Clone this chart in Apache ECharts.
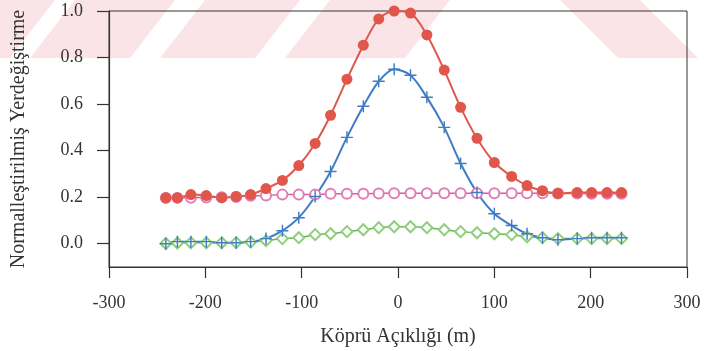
<!DOCTYPE html>
<html>
<head>
<meta charset="utf-8">
<script src="https://cdn.jsdelivr.net/npm/echarts@6/dist/echarts.min.js"></script>
<style>
  html, body { margin: 0; padding: 0; background: #fff; }
  #chart { width: 706px; height: 351px; }
</style>
</head>
<body>
<div id="chart"></div>
<script>
// span positions (m) shared by all four curves
const spanX = [-241, -229, -215, -199, -183, -168, -153, -137, -120, -103,
  -86, -70, -53, -36, -20, -4, 13, 30, 48, 65,
  82, 100, 118, 134, 150, 166, 186, 201, 217, 232];

const redVals = [0.198, 0.198, 0.211, 0.207, 0.198, 0.203, 0.211, 0.237, 0.272, 0.336,
  0.431, 0.552, 0.707, 0.853, 0.966, 1.0, 0.991, 0.897, 0.746, 0.586,
  0.453, 0.349, 0.289, 0.25, 0.228, 0.216, 0.22, 0.22, 0.22, 0.22];

const pinkVals = [0.196, 0.197, 0.198, 0.199, 0.2, 0.201, 0.206, 0.207, 0.211, 0.211,
  0.211, 0.215, 0.215, 0.215, 0.216, 0.217, 0.217, 0.217, 0.217, 0.217,
  0.217, 0.217, 0.217, 0.217, 0.217, 0.216, 0.216, 0.215, 0.215, 0.215];

const blueVals = [0.0, 0.009, 0.009, 0.009, 0.004, 0.004, 0.009, 0.022, 0.056, 0.112,
  0.203, 0.31, 0.457, 0.591, 0.698, 0.75, 0.724, 0.629, 0.5, 0.345,
  0.22, 0.129, 0.078, 0.043, 0.026, 0.017, 0.022, 0.026, 0.026, 0.026];

const greenVals = [0.001, 0.003, 0.004, 0.004, 0.004, 0.005, 0.007, 0.013, 0.022, 0.026,
  0.039, 0.043, 0.052, 0.06, 0.069, 0.073, 0.073, 0.069, 0.06, 0.052,
  0.047, 0.043, 0.039, 0.03, 0.026, 0.022, 0.022, 0.022, 0.022, 0.022];

const yTicks = [0, 0.2, 0.4, 0.6, 0.8, 1.0];
const xTicks = [-300, -200, -100, 0, 100, 200, 300];

const FONT = "'Liberation Serif', 'DejaVu Serif', serif";
const INK = "#333";

const pairs = (vals) => spanX.map((x, i) => [x, vals[i]]);
const plus = "path://M4.4,0h1.2v4.4h4.4v1.2h-4.4v4.4h-1.2v-4.4h-4.4v-1.2h4.4z";

// faint pink scan watermark across the top
const band = 58, slant = 45;
const stripe = (a, b) => ({
  type: "polygon", z: -10, silent: true,
  shape: { points: [[a, 0], [b, 0], [b - slant, band], [a - slant, band]] },
  style: { fill: "#fff" },
});

const chart = echarts.init(document.getElementById("chart"), null, { renderer: "canvas" });
chart.setOption({
  backgroundColor: "#fff",
  animation: false,
  graphic: [
    { type: "rect", z: -11, silent: true, shape: { x: 0, y: 0, width: 706, height: band }, style: { fill: "#fbe4e8" } },
    stripe(55, 75), stripe(175, 205), stripe(300, 330),
    { type: "polygon", z: -10, silent: true, shape: { points: [[450, 0], [560, 0], [618, band], [405, band]] }, style: { fill: "#fff" } },
    { type: "polygon", z: -10, silent: true, shape: { points: [[640, 0], [706, 0], [706, band], [698, band]] }, style: { fill: "#fff" } },
  ],
  grid: {
    left: 109, right: 19, top: 11, bottom: 84,
    show: true, borderColor: INK, borderWidth: 1, backgroundColor: "transparent",
    containLabel: false, outerBoundsMode: "none",
  },
  xAxis: {
    type: "value", min: -300, max: 300, interval: 100,
    name: "Köprü Açıklığı (m)", nameLocation: "middle", nameGap: 60,
    nameTextStyle: { fontFamily: FONT, fontSize: 20, color: INK },
    axisLine: { show: true, onZero: false, lineStyle: { color: INK, width: 1.2 } },
    axisTick: { show: true, inside: false, length: 11, lineStyle: { color: INK, width: 1.2 }, customValues: xTicks },
    axisLabel: { margin: 27, fontFamily: FONT, fontSize: 18, color: INK, customValues: xTicks },
    splitLine: { show: false },
  },
  yAxis: {
    type: "value", min: -0.1, max: 1.0,
    name: "Normalleştirilmiş Yerdeğiştirme", nameLocation: "middle", nameRotate: 90, nameGap: 80,
    nameTextStyle: { fontFamily: FONT, fontSize: 20, color: INK },
    axisLine: { show: true, onZero: false, lineStyle: { color: INK, width: 1.2 } },
    axisTick: { show: true, inside: false, length: 12, lineStyle: { color: INK, width: 1.2 }, customValues: yTicks },
    axisLabel: { margin: 26, fontFamily: FONT, fontSize: 18, color: INK, customValues: yTicks,
      formatter: (v) => v.toFixed(1) },
    splitLine: { show: false },
  },
  series: [
    {
      name: "pink", type: "line", smooth: 0.3, data: pairs(pinkVals),
      symbol: "emptyCircle", symbolSize: 10,
      lineStyle: { color: "#d35fa3", width: 1.5 },
      itemStyle: { color: "#e27db5", borderColor: "#e27db5", borderWidth: 1 },
    },
    {
      name: "green", type: "line", smooth: 0.3, data: pairs(greenVals),
      symbol: "emptyDiamond", symbolSize: 11,
      lineStyle: { color: "#62b94f", width: 1.5 },
      itemStyle: { color: "#8fcf7c", borderColor: "#8fcf7c", borderWidth: 1 },
    },
    {
      name: "red", type: "line", smooth: 0.3, data: pairs(redVals),
      symbol: "circle", symbolSize: 11,
      lineStyle: { color: "#dc5a4c", width: 2 },
      itemStyle: { color: "#e0564a" },
    },
    {
      name: "blue", type: "line", smooth: 0.3, data: pairs(blueVals),
      symbol: plus, symbolSize: 12,
      lineStyle: { color: "#3f7cc6", width: 2 },
      itemStyle: { color: "#3f7cc6" },
    },
  ],
});
</script>
</body>
</html>
